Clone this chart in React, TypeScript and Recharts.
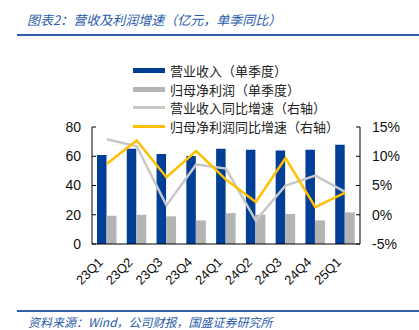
import { ComposedChart, Bar, Line, XAxis, YAxis } from 'recharts';

const quarters = ['23Q1', '23Q2', '23Q3', '23Q4', '24Q1', '24Q2', '24Q3', '24Q4', '25Q1'];
const revenue = [60.8, 65.2, 61.5, 60.2, 65.2, 64.5, 64.0, 64.5, 67.9];
const netProfit = [19.3, 20.0, 18.9, 16.1, 21.1, 20.0, 20.5, 16.1, 21.6];
const revenueYoY = [12.9, 11.7, 1.6, 8.6, 7.9, -1.0, 5.0, 6.7, 3.9];
const profitYoY = [8.7, 12.7, 6.4, 10.9, 6.0, 2.2, 9.7, 1.3, 3.8];

const leftTicks = [0, 20, 40, 60, 80];
const rightTicks = [-5, 0, 5, 10, 15];
const boundaryTicks = [0, 1, 2, 3, 4, 5, 6, 7, 8, 9];

const data = quarters.map((q, i) => ({
  q,
  revenue: revenue[i],
  netProfit: netProfit[i],
  revenueYoY: revenueYoY[i],
  profitYoY: profitYoY[i],
}));

const BLUE = '#003F98';
const GRAY_BAR = '#B4B4B4';
const GRAY_LINE = '#C8C8C8';
const YELLOW = '#FFC000';
const CJK = '"Noto Sans CJK SC", "Noto Sans", sans-serif';
const NUM = '"Liberation Sans", Arial, sans-serif';

const legendItems = [
  { label: '营业收入（单季度）', color: BLUE, h: 5 },
  { label: '归母净利润（单季度）', color: GRAY_BAR, h: 5 },
  { label: '营业收入同比增速（右轴）', color: GRAY_LINE, h: 2.5 },
  { label: '归母净利润同比增速（右轴）', color: YELLOW, h: 2.5 },
];

function XTick({ x, y, payload }: any) {
  return (
    <text
      x={x - 3}
      y={y + 11}
      transform={`rotate(-45 ${x - 3} ${y + 11})`}
      textAnchor="end"
      fontFamily={NUM}
      fontSize={13}
      fill="#111"
    >
      {payload.value}
    </text>
  );
}

export default function App() {
  return (
    <div style={{ position: 'absolute', left: 0, top: 0, width: 419, height: 330, background: '#fff' }}>
      <div
        style={{
          position: 'absolute', left: 27, top: 10, fontFamily: CJK, fontStyle: 'italic',
          fontSize: 13, color: '#2A5CAA', whiteSpace: 'nowrap',
        }}
      >
        图表2：营收及利润增速（亿元，单季同比）
      </div>
      <div style={{ position: 'absolute', left: 17, top: 34, width: 402, height: 2, background: '#2E5FA8' }} />

      <div style={{ position: 'absolute', left: 0, top: 0 }}>
        <ComposedChart
          width={419}
          height={330}
          data={data}
          margin={{ top: 127, right: 14, bottom: 46, left: 52 }}
          barGap={0}
        >
          <XAxis
            xAxisId="bounds"
            type="number"
            domain={[0, 9]}
            ticks={boundaryTicks}
            tick={false}
            axisLine={false}
            tickSize={-4}
            tickLine={{ stroke: '#000' }}
            height={0}
          />
          <XAxis
            dataKey="q"
            tick={<XTick />}
            tickLine={false}
            axisLine={{ stroke: '#000', strokeWidth: 1 }}
            interval={0}
            height={40}
          />
          <YAxis
            yAxisId="left"
            domain={[0, 80]}
            ticks={leftTicks}
            width={40}
            tickSize={-4}
            tickMargin={15}
            axisLine={{ stroke: '#000' }}
            tickLine={{ stroke: '#000' }}
            tick={{ fontFamily: NUM, fontSize: 14, fill: '#111' }}
          />
          <YAxis
            yAxisId="right"
            orientation="right"
            domain={[-5, 15]}
            ticks={rightTicks}
            width={45}
            tickSize={-4}
            tickMargin={16}
            axisLine={{ stroke: '#000' }}
            tickLine={{ stroke: '#000' }}
            tickFormatter={(v) => `${v}%`}
            tick={{ fontFamily: NUM, fontSize: 14, fill: '#111', textAnchor: 'start' }}
          />
          <Bar yAxisId="left" dataKey="revenue" fill={BLUE} barSize={9.5} isAnimationActive={false} />
          <Bar yAxisId="left" dataKey="netProfit" fill={GRAY_BAR} barSize={10} isAnimationActive={false} />
          <Line
            yAxisId="right"
            dataKey="revenueYoY"
            stroke={GRAY_LINE}
            strokeWidth={2.5}
            dot={false}
            type="linear"
            isAnimationActive={false}
          />
          <Line
            yAxisId="right"
            dataKey="profitYoY"
            stroke={YELLOW}
            strokeWidth={2.5}
            dot={false}
            type="linear"
            isAnimationActive={false}
          />
        </ComposedChart>
      </div>

      <div style={{ position: 'absolute', left: 133, top: 61 }}>
        {legendItems.map((it) => (
          <div key={it.label} style={{ display: 'flex', alignItems: 'center', height: 18.7 }}>
            <div style={{ width: 32, height: it.h, background: it.color, marginRight: 5 }} />
            <span style={{ fontFamily: CJK, fontSize: 13, color: '#222', whiteSpace: 'nowrap' }}>{it.label}</span>
          </div>
        ))}
      </div>

      <div style={{ position: 'absolute', left: 17, top: 310, width: 402, height: 1.5, background: '#2E5FA8' }} />
      <div
        style={{
          position: 'absolute', left: 28, top: 313, fontFamily: CJK, fontStyle: 'italic',
          fontSize: 12, color: '#2A5CAA', whiteSpace: 'nowrap',
        }}
      >
        资料来源：Wind，公司财报，国盛证券研究所
      </div>
    </div>
  );
}
